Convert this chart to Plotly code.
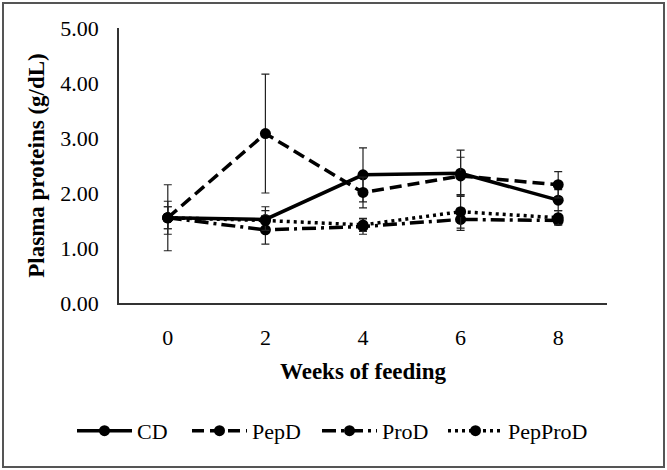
import plotly.graph_objects as go

# plasma proteins per diet over weeks of feeding
weeks = ["0", "2", "4", "6", "8"]

cd = [1.55, 1.52, 2.33, 2.36, 1.87]
cd_err = [0.60, 0.23, 0.49, 0.42, 0.19]

pepd = [1.55, 3.08, 2.01, 2.31, 2.15]
pepd_err = [0.30, 1.08, 0.28, 0.34, 0.24]

prod = [1.55, 1.33, 1.39, 1.52, 1.50]
prod_err = [0.20, 0.26, 0.14, 0.20, 0.08]

pepprod = [1.55, 1.50, 1.42, 1.66, 1.55]
pepprod_err = [0.20, 0.18, 0.12, 0.30, 0.13]

series = [
    ("CD", cd, cd_err, "solid"),
    ("PepD", pepd, pepd_err, "12px,6px"),
    ("ProD", prod, prod_err, "14px,5px,3px,5px"),
    ("PepProD", pepprod, pepprod_err, "3px,4px"),
]

# one legend per series so each entry sits where it does in the original
legend_names = ["legend", "legend2", "legend3", "legend4"]
legend_px = [72, 187, 317, 443]

fig = go.Figure()
for (name, vals, err, dash), lg in zip(series, legend_names):
    fig.add_trace(go.Scatter(
        x=weeks, y=vals, name=name, mode="lines+markers", legend=lg,
        line=dict(color="black", width=3.5, dash=dash),
        marker=dict(color="black", size=11, symbol="circle"),
        error_y=dict(type="data", array=err, visible=True,
                     color="#222222", thickness=1.2, width=4),
    ))

font = "Liberation Serif, Times New Roman, serif"

fig.update_layout(
    width=667, height=470,
    margin=dict(l=119, r=60, t=28, b=167),
    paper_bgcolor="white", plot_bgcolor="white",
    font=dict(family=font, color="black", size=22),
    showlegend=True,
)
for lg, px_ in zip(legend_names, legend_px):
    fig.update_layout({lg: dict(orientation="h", x=(px_ - 119) / 488, y=-0.465,
                                xanchor="left", yanchor="middle",
                                font=dict(size=22), itemwidth=55,
                                bgcolor="rgba(0,0,0,0)")})

fig.update_xaxes(
    type="category", range=[-0.5, 4.5],
    showline=True, linecolor="#333333", linewidth=1.5,
    showgrid=False, ticks="", tickfont=dict(size=22), ticklabelstandoff=14,
    title=dict(text="<b>Weeks of feeding</b>", font=dict(size=23), standoff=14),
)

fig.update_yaxes(
    range=[0, 5], dtick=1, tickformat=".2f",
    showline=True, linecolor="#333333", linewidth=1.5,
    showgrid=False, ticks="", tickfont=dict(size=22), ticklabelstandoff=14,
    title=dict(text="<b>Plasma proteins (g/dL)</b>", font=dict(size=23), standoff=9),
)

# outer frame round the picture
fig.add_shape(type="rect", xref="paper", yref="paper",
              x0=-0.2377, x1=1.1168, y0=-0.596, y1=1.0909,
              line=dict(color="#555555", width=2))

fig.write_html("out.html", config={"displayModeBar": False},
               post_script="document.body.style.margin='0';")
